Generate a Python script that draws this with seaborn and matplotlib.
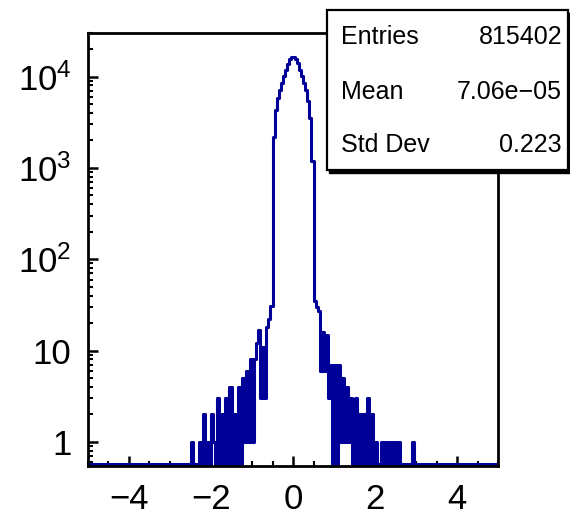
import numpy as np
import pandas as pd
import matplotlib
matplotlib.use("Agg")
import matplotlib.pyplot as plt
import seaborn as sns
from matplotlib.patches import Rectangle
from matplotlib.ticker import FixedLocator, FixedFormatter, LogLocator, MultipleLocator, NullFormatter

# ---------------- data ----------------
x_min, x_max, n_bins = -5.0, 5.0, 200
bin_width = 0.05

# counts of bins starting at -2.55 (step 0.05)
left_tail_start = -2.55
left_tail = [0, 1, 0, 0, 0, 1, 0, 2, 0, 1, 0, 2, 1, 0, 3, 0, 2, 0, 3, 0,
             4, 0, 2, 0, 4, 0, 5, 1, 6, 1, 8, 1,
             8, 12, 17, 3, 11, 3, 18, 22, 31]
# counts of bins starting at -0.50
core_start = -0.50
core = [2200, 4300, 5900, 7200, 8500, 10100, 11900, 13900, 15600, 16200,
        16200, 15600, 14100, 11900, 10100, 8500, 7200, 5400, 3500, 1180]
# counts of bins starting at 0.50
right_tail_start = 0.50
right_tail = [35, 30, 27, 6, 16, 6, 15, 3, 7, 0, 7, 0, 7, 1, 5, 1, 4, 1, 3, 0,
              3, 0, 2, 0, 2, 0, 3, 0, 2, 0, 1, 0, 0, 1, 0, 1, 0, 1, 0, 1,
              0, 1, 0, 0, 0, 0, 0, 0, 1, 0]

x_ticks = [-4, -2, 0, 2, 4]
x_tick_labels = ["\u22124", "\u22122", "0", "2", "4"]
y_ticks = [1, 10, 100, 1000, 10000]
y_tick_labels = ["1", "10", "$10^{2}$", "$10^{3}$", "$10^{4}$"]

stat_names = ["Entries", "Mean", "Std Dev"]
stat_values = ["815402", "7.06e\u221205", "0.223"]

# ---------------- style ----------------
sns.set_theme(style="ticks")
plt.rcParams['font.family'] = ['Liberation Sans', 'DejaVu Sans']
plt.rcParams['mathtext.fontset'] = 'custom'
plt.rcParams['mathtext.rm'] = 'Liberation Sans'
plt.rcParams['mathtext.it'] = 'Liberation Sans:italic'
plt.rcParams['mathtext.bf'] = 'Liberation Sans:bold'
plt.rcParams['mathtext.default'] = 'regular'
plt.rcParams['text.color'] = 'black'
plt.rcParams['xtick.color'] = 'black'
plt.rcParams['ytick.color'] = 'black'
plt.rcParams['xtick.direction'] = 'in'
plt.rcParams['ytick.direction'] = 'in'

edges = np.linspace(x_min, x_max, n_bins + 1)
counts = np.zeros(n_bins)


def put(start, vals):
    i0 = int(round((start - x_min) / bin_width))
    counts[i0:i0 + len(vals)] = vals


put(left_tail_start, left_tail)
put(core_start, core)
put(right_tail_start, right_tail)

y_lo, y_hi = 0.546, 3.0e4
floor = y_lo * 10 ** (2.2 / 91.25)   # empty bins drawn just above the frame
plot_counts = np.where(counts > 0, counts, floor)
df = pd.DataFrame({"x": (edges[:-1] + edges[1:]) / 2, "w": plot_counts})

W, H = 570, 518
fig = plt.figure(figsize=(W / 100, H / 100), dpi=100)
ax = fig.add_axes([88 / W, 1 - 466 / H, (498 - 88) / W, (466 - 33) / H])

sns.histplot(data=df, x="x", weights="w", bins=n_bins,
             binrange=(x_min, x_max), element="step",
             fill=False, color="#000099", linewidth=2.2, ax=ax)
ax.set_yscale('log')
ax.set_xlim(x_min, x_max)
ax.set_ylim(y_lo, y_hi)
ax.set_xlabel("")
ax.set_ylabel("")

for s in ax.spines.values():
    s.set_linewidth(2.0)
    s.set_color("black")
    s.set_visible(True)
    s.set_zorder(5)

ax.xaxis.set_major_locator(FixedLocator(x_ticks))
ax.xaxis.set_major_formatter(FixedFormatter(x_tick_labels))
ax.xaxis.set_minor_locator(MultipleLocator(0.5))
ax.yaxis.set_major_locator(FixedLocator(y_ticks))
ax.yaxis.set_major_formatter(FixedFormatter(y_tick_labels))
ax.yaxis.set_minor_locator(LogLocator(base=10, subs=np.arange(2, 10)))
ax.yaxis.set_minor_formatter(NullFormatter())

ax.tick_params(axis='both', which='major', direction='in', width=1.8,
               labelsize=25, top=False, right=False, colors='black')
ax.tick_params(axis='x', which='major', length=7, pad=12)
ax.tick_params(axis='y', which='major', length=7, pad=12)
ax.tick_params(axis='both', which='minor', direction='in', width=1.5,
               length=3.5, top=False, right=False, colors='black')

# ---------------- stats box ----------------
bx0, by0, bx1, by1 = 327 / W, 1 - 170 / H, 568 / W, 1 - 10 / H
shadow = Rectangle((bx0 + 2 / W, by0 - 3 / H), bx1 - bx0, by1 - by0,
                   transform=fig.transFigure, facecolor="black",
                   edgecolor="black", zorder=10)
box = Rectangle((bx0, by0), bx1 - bx0, by1 - by0, transform=fig.transFigure,
                facecolor="white", edgecolor="black", linewidth=1.6, zorder=11)
fig.add_artist(shadow)
fig.add_artist(box)

row_y = [37, 92, 145]
for name, val, yy in zip(stat_names, stat_values, row_y):
    fig.text(341 / W, 1 - yy / H, name, ha="left", va="center",
             fontsize=18, color="black", zorder=12)
    fig.text(562 / W, 1 - yy / H, val, ha="right", va="center",
             fontsize=18, color="black", zorder=12)

fig.savefig("out.png", dpi=100)
